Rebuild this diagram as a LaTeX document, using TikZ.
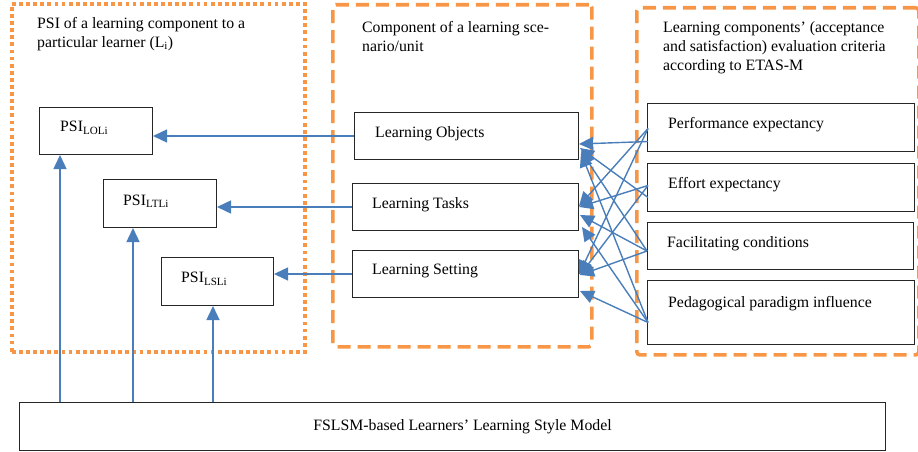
\documentclass[tikz,border=0pt]{standalone}
\usepackage{fontspec}
\setmainfont{Liberation Serif}
\usetikzlibrary{arrows.meta,calc}
\definecolor{orng}{RGB}{247,150,70}
\definecolor{blu}{RGB}{74,126,187}
\begin{document}
\begin{tikzpicture}[x=1pt,y=-1pt,
  font=\fontsize{15.8}{19}\selectfont,
  box/.style={draw=black!85, line width=1pt, anchor=north west, inner sep=0pt},
  lbl/.style={anchor=west, inner sep=0pt},
  ttl/.style={anchor=north west, inner sep=0pt, align=left},
  arr/.style={draw=blu, line width=1.4pt, -{Triangle[length=14pt,width=13pt]}},
  cont/.style={draw=orng, line width=3.6pt, anchor=north west, inner sep=0pt},
  dotcont/.style={cont, dash pattern=on 3.8pt off 3.3pt},
  dashcont/.style={cont, dash pattern=on 13pt off 7pt, rounded corners=3pt},
]
\useasboundingbox (0,0) rectangle (918,452);

% containers
\node[dotcont, minimum width=293pt, minimum height=348pt] (c1) at (10,2) {};
\node[dashcont, minimum width=259pt, minimum height=342pt] (c2) at (331,3) {};
\node[dashcont, minimum width=282pt, minimum height=347pt] (c3) at (635,6) {};

\node[ttl] (t1) at (37,17) {PSI of a learning component to a\\particular learner (L\textsubscript{i})};
\node[ttl] (t2) at (362,21) {Component of a learning sce-\\nario/unit};
\node[ttl] (t3) at (663,21) {Learning components’ (acceptance\\and satisfaction) evaluation criteria\\according to ETAS-M};

% PSI boxes
\node[box, minimum width=113pt, minimum height=47pt] (psilo) at (39,107) {};
\node[box, minimum width=113pt, minimum height=48pt] (psilt) at (103,179) {};
\node[box, minimum width=112pt, minimum height=48pt] (psils) at (161,257) {};
\node[lbl] (psilot) at ($(psilo.north west)+(21,21)$) {PSI\textsubscript{LOLi}};
\node[lbl] (psiltt) at ($(psilt.north west)+(20,22)$) {PSI\textsubscript{LTLi}};
\node[lbl] (psilst) at ($(psils.north west)+(20,22)$) {PSI\textsubscript{LSLi}};

% component boxes
\node[box, minimum width=224pt, minimum height=47pt] (lo) at (354,112) {};
\node[box, minimum width=226pt, minimum height=47pt] (lt) at (352,183) {};
\node[box, minimum width=226pt, minimum height=47pt] (ls) at (352,250) {};
\node[lbl] (lotx) at ($(lo.north west)+(21,22)$) {Learning Objects};
\node[lbl] (lttx) at ($(lt.north west)+(20,22)$) {Learning Tasks};
\node[lbl] (lstx) at ($(ls.north west)+(20,21)$) {Learning Setting};

% criteria boxes
\node[box, minimum width=267pt, minimum height=48pt] (pe) at (647,103) {};
\node[box, minimum width=267pt, minimum height=48pt] (ee) at (647,163) {};
\node[box, minimum width=266pt, minimum height=47pt] (fc) at (647,222) {};
\node[box, minimum width=267pt, minimum height=64pt] (pd) at (647,280) {};
\node[lbl] (petx) at ($(pe.north west)+(21,22)$) {Performance expectancy};
\node[lbl] (eetx) at ($(ee.north west)+(21,22)$) {Effort expectancy};
\node[lbl] (fctx) at ($(fc.north west)+(20,22)$) {Facilitating conditions};
\node[lbl] (pdtx) at ($(pd.north west)+(21,24)$) {Pedagogical paradigm influence};

% bottom box
\node[box, minimum width=866pt, minimum height=48pt] (fs) at (19,402) {\hspace{20pt}FSLSM-based Learners’ Learning Style Model};

% horizontal arrows
\draw[arr] (lo.west) -- (lo.west -| psilo.east);
\draw[arr] (lt.west) -- (lt.west -| psilt.east);
\draw[arr] (ls.west) -- (ls.west -| psils.east);

% vertical arrows
\coordinate (v1) at ($(psilo.south west)+(21,0)$);
\coordinate (v2) at ($(psilt.south west)+(30,0)$);
\coordinate (v3) at ($(psils.south west)+(52,0)$);
\draw[arr] (v1 |- fs.north) -- (v1);
\draw[arr] (v2 |- fs.north) -- (v2);
\draw[arr] (v3 |- fs.north) -- (v3);

% cross arrows
\coordinate (p1) at ($(pe.west)+(1,1)$);
\coordinate (p2) at ($(pe.west)+(1,14)$);
\coordinate (e1) at ($(ee.west)+(1,-2)$);
\coordinate (e2) at ($(ee.west)+(1,10)$);
\coordinate (f1) at ($(fc.west)+(0,5)$);
\coordinate (d1) at ($(pd.west)+(1,10)$);

\draw[arr] (p2) -- ($(lo.east)+(0,8)$);
\draw[arr] (p1) -- ($(lt.east)+(0,-1)$);
\draw[arr] (p1) -- ($(ls.east)+(0,0.5)$);
\draw[arr] (e2) -- ($(lo.east)+(1,12)$);
\draw[arr] (e1) -- ($(lt.east)+(0,0)$);
\draw[arr] (e1) -- ($(ls.east)+(1,1)$);
\draw[arr] (f1) -- ($(lo.east)+(2,15)$);
\draw[arr] (f1) -- ($(lt.east)+(1,8)$);
\draw[arr] (f1) -- ($(ls.east)+(1,1)$);
\draw[arr] (d1) -- ($(lo.east)+(2,17)$);
\draw[arr] (d1) -- ($(lt.east)+(3,20)$);
\draw[arr] (d1) -- ($(ls.east)+(1,17)$);
\end{tikzpicture}
\end{document}
